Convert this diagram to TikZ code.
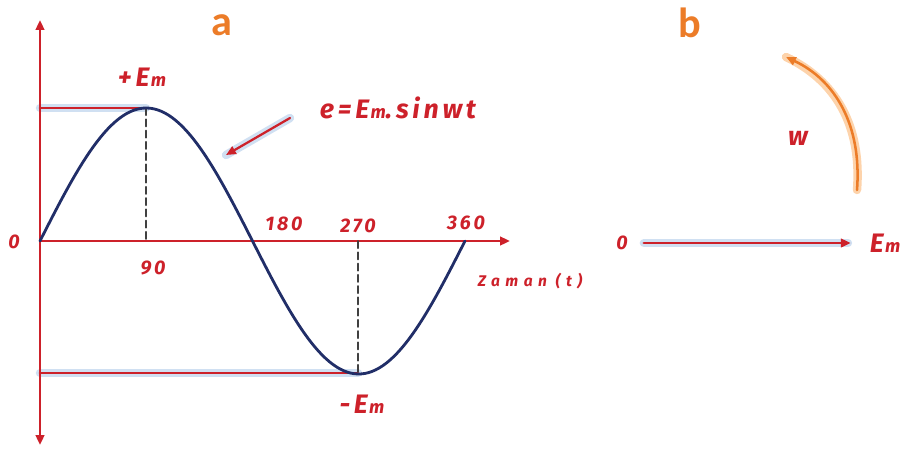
\documentclass[tikz,border=0pt]{standalone}
\usepackage{fontspec}
\setmainfont{Fira Sans}
\newfontfamily\lblfont{Fira Sans}[LetterSpace=14]
\newfontfamily\widefont{Fira Sans}[LetterSpace=35]
\newfontfamily\titlefont{Carlito}
\usetikzlibrary{arrows.meta}
\definecolor{axisred}{RGB}{205,33,42}
\definecolor{curvenavy}{RGB}{33,46,104}
\definecolor{glowblue}{RGB}{170,198,232}
\definecolor{arcorange}{RGB}{236,124,40}
\definecolor{gloworange}{RGB}{252,200,150}
\newcommand{\Emx}[1]{E\kern1pt{\fontsize{#1}{#1}\selectfont m}}

\begin{document}
\begin{tikzpicture}[x=0.025cm,y=-0.025cm,>={Triangle[length=7pt,width=6pt]},line cap=round,
  lbl/.style={text=axisred,font=\lblfont\bfseries\itshape\fontsize{14}{16}\selectfont},
  biglbl/.style={text=axisred,font=\lblfont\bfseries\itshape\fontsize{19}{21}\selectfont},
  smalllbl/.style={text=axisred,font=\widefont\bfseries\itshape\fontsize{11}{13}\selectfont},
  title/.style={text=arcorange,font=\titlefont\bfseries\fontsize{30}{32}\selectfont,inner sep=1pt},
  axis/.style={axisred,line width=2pt},
  glow/.style={glowblue,line width=6pt,opacity=0.55}]
\useasboundingbox (0,0) rectangle (902,450);
% part a
\coordinate (ybot) at (40,445);
\coordinate (ytop) at (40,20);
\coordinate (orig) at (40,241);
\coordinate (xend) at (510,241);
\coordinate (peak) at (146,108);
\coordinate (peakax) at (146,241);
\coordinate (trough) at (358,373);
\coordinate (troughax) at (358,241);
\coordinate (maxl) at (40,108);
\coordinate (minl) at (40,373);
\draw[glow] (maxl) -- (peak);
\draw[glow] (minl) -- (trough);
\draw[axis,<->] (ybot) -- (ytop);
\draw[axis,->] (orig) -- (xend);
\draw[axis] (maxl) -- (peak);
\draw[axis] (minl) -- (trough);
\draw[gray!50!black,line width=1.4pt,dash pattern=on 5pt off 3pt] (peak) -- (peakax);
\draw[gray!50!black,line width=1.4pt,dash pattern=on 5pt off 3pt] (troughax) -- (trough);
\draw[curvenavy,line width=2pt] plot[domain=0:360,samples=120] ({40+\x/360*425},{241-133*sin(\x)});
\node[title] (ta) at (222,25) {a};
\node[biglbl] (pem) at (142,77) {+\Emx{13}};
\node[biglbl] (mem) at (362,404) {-\Emx{13}};
\node[biglbl] (eq) at (398,108) {e=\Emx{13}.sinwt};
\node[lbl] (z0) at (14,242) {0};
\node[lbl] (n90) at (153,268) {90};
\node[lbl] (n180) at (284,224) {180};
\node[lbl] (n270) at (358,226) {270};
\node[lbl] (n360) at (466,223) {360};
\node[smalllbl] (zaman) at (530,281) {Zaman (t)};
\coordinate (ptail) at (290,118);
\coordinate (phead) at (226,155);
\draw[glow] (ptail) -- (phead);
\draw[axisred,line width=1.6pt,->] (ptail) -- (phead);
% part b
\node[title] (tb) at (690,23) {b};
\node[lbl] (b0) at (622,243) {0};
\node[biglbl] (bem) at (885,243) {\Emx{13}};
\draw[glow] ([xshift=8]b0.east) -- ([xshift=-12]bem.west);
\draw[axis,->] ([xshift=8]b0.east) -- ([xshift=-10]bem.west);
\coordinate (arcs) at (857,190);
\coordinate (arce) at (786,57);
\draw[gloworange,line width=6pt,opacity=0.8] (arcs) .. controls (862,125) and (835,80) .. (arce);
\draw[arcorange,line width=1.8pt,->] (arcs) .. controls (862,125) and (835,80) .. (arce);
\node[biglbl] (wlbl) at (798,138) {w};
\end{tikzpicture}
\end{document}
